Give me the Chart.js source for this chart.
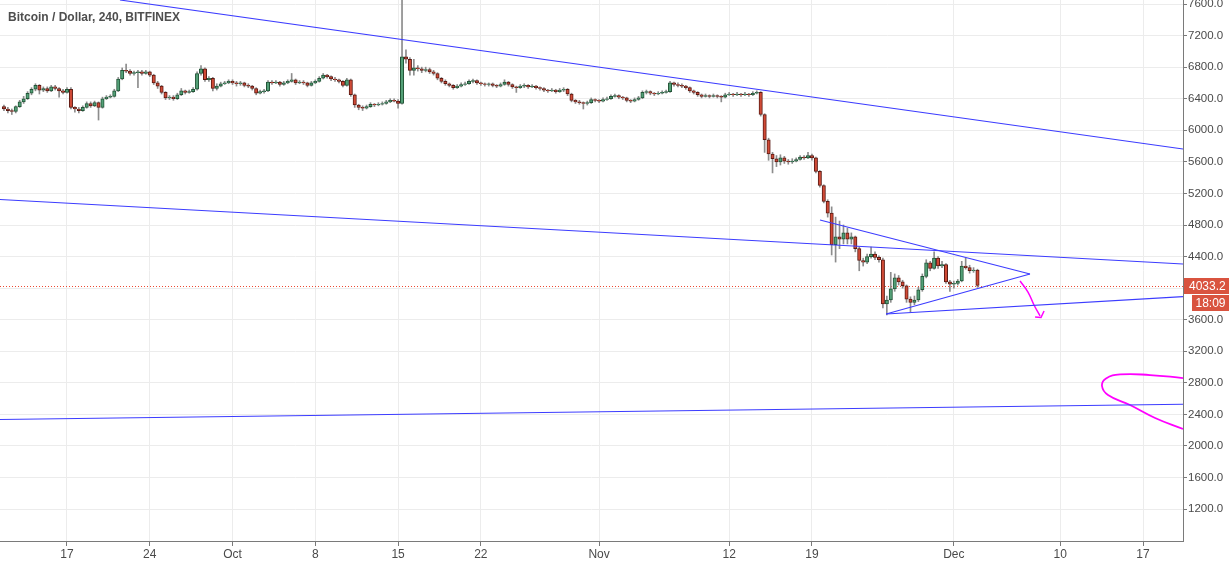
<!DOCTYPE html>
<html><head><meta charset="utf-8">
<script src="https://cdn.jsdelivr.net/npm/chart.js@4.4.1/dist/chart.umd.min.js"></script>
<style>html,body{margin:0;padding:0;background:#fff;overflow:hidden}#wrap{position:relative;width:1229px;height:565px}</style>
</head><body><div id="wrap"><canvas id="c" width="1229" height="565"></canvas></div>
<script>
// Time axis: days since 2018-09-01 00:00. Candles are 8-hour bars.
const startDay = 10 + 16/24;   // Sep 11 16:00
const stepDay = 8/24;
const title = 'Bitcoin / Dollar, 240, BITFINEX';

const opens = [
6300,6270,6250,6240,6300,6360,6400,6470,6520,6570, 6510,6530,6500,6550,6530,6500,6480,6520,6290,6270,
6250,6290,6340,6310,6350,6290,6400,6420,6430,6500, 6650,6760,6750,6720,6730,6740,6720,6740,6700,6600,
6560,6480,6410,6420,6400,6450,6500,6480,6490,6520, 6720,6780,6640,6660,6530,6560,6590,6600,6620,6600,
6590,6600,6570,6560,6530,6470,6490,6500,6610,6600, 6610,6580,6600,6620,6640,6600,6610,6600,6570,6600,
6620,6660,6700,6680,6650,6640,6620,6570,6640,6450, 6320,6290,6280,6300,6330,6320,6330,6340,6360,6380,
6370,6340,6930,6900,6760,6790,6780,6760,6770,6740, 6720,6660,6620,6590,6570,6540,6560,6580,6590,6620,
6630,6600,6590,6580,6590,6570,6560,6580,6610,6580, 6550,6540,6560,6570,6550,6560,6540,6530,6510,6500,
6510,6490,6510,6520,6460,6380,6360,6350,6340,6350, 6390,6380,6370,6390,6400,6430,6440,6420,6410,6380,
6370,6390,6410,6480,6490,6470,6460,6470,6480,6490, 6600,6580,6570,6560,6540,6500,6480,6450,6430,6440,
6430,6440,6430,6420,6450,6460,6450,6460,6450,6460, 6450,6470,6480,6200,5880,5700,5640,5600,5650,5610,
5600,5610,5630,5660,5650,5680,5650,5480,5300,5100, 4950,4550,4650,4620,4700,4620,4650,4500,4350,4330,
4400,4430,4390,4360,3800,3850,3990,4130,4080,4030, 3860,3820,3850,3980,4150,4320,4250,4380,4280,4300,
4080,4050,4060,4090,4280,4260,4220,4230];
const closes = [
6270,6250,6240,6300,6360,6400,6470,6520,6570,6510, 6530,6500,6550,6530,6500,6480,6520,6290,6270,6250,
6290,6340,6310,6350,6290,6400,6420,6430,6500,6650, 6760,6750,6720,6730,6740,6720,6740,6700,6600,6560,
6480,6410,6420,6400,6450,6500,6480,6490,6520,6720, 6780,6640,6660,6530,6560,6590,6600,6620,6600,6590,
6600,6570,6560,6530,6470,6490,6500,6610,6600,6610, 6580,6600,6620,6640,6600,6610,6600,6570,6600,6620,
6660,6700,6680,6650,6640,6620,6570,6640,6450,6320, 6290,6280,6300,6330,6320,6330,6340,6360,6380,6370,
6340,6930,6900,6760,6790,6780,6760,6770,6740,6720, 6660,6620,6590,6570,6540,6560,6580,6590,6620,6630,
6600,6590,6580,6590,6570,6560,6580,6610,6580,6550, 6540,6560,6570,6550,6560,6540,6530,6510,6500,6510,
6490,6510,6520,6460,6380,6360,6350,6340,6350,6390, 6380,6370,6390,6400,6430,6440,6420,6410,6380,6370,
6390,6410,6480,6490,6470,6460,6470,6480,6490,6600, 6580,6570,6560,6540,6500,6480,6450,6430,6440,6430,
6440,6430,6420,6450,6460,6450,6460,6450,6460,6450, 6470,6480,6200,5880,5700,5640,5600,5650,5610,5600,
5610,5630,5660,5650,5680,5650,5480,5300,5100,4950, 4550,4650,4620,4700,4620,4650,4500,4350,4330,4400,
4430,4390,4360,3800,3850,3990,4130,4080,4030,3860, 3820,3850,3980,4150,4320,4250,4380,4280,4300,4080,
4050,4060,4090,4280,4260,4220,4230,4033.2];
const highs = [
6320,6290,6270,6310,6380,6430,6490,6540,6590,6580, 6550,6550,6570,6570,6540,6520,6540,6540,6300,6290,
6310,6360,6360,6370,6360,6420,6440,6450,6520,6670, 6790,6840,6770,6750,6760,6760,6760,6750,6710,6620,
6570,6490,6440,6440,6470,6530,6510,6510,6540,6740, 6820,6790,6680,6670,6590,6610,6620,6640,6640,6620,
6620,6610,6590,6570,6540,6510,6520,6630,6630,6630, 6620,6620,6640,6720,6650,6630,6630,6610,6620,6640,
6680,6720,6710,6690,6670,6650,6630,6660,6650,6460, 6330,6310,6320,6350,6340,6350,6360,6380,6400,6400,
6390,7780,7020,6920,6900,6820,6800,6800,6790,6760, 6730,6670,6640,6600,6580,6580,6600,6610,6640,6650,
6640,6610,6600,6600,6600,6580,6600,6640,6620,6590, 6560,6580,6590,6580,6580,6570,6550,6540,6520,6530,
6520,6530,6540,6530,6470,6390,6380,6360,6370,6410, 6400,6390,6410,6420,6450,6460,6450,6430,6420,6390,
6410,6430,6500,6510,6500,6480,6490,6500,6510,6620, 6610,6600,6590,6570,6550,6510,6490,6460,6460,6450,
6460,6450,6440,6470,6480,6470,6480,6470,6480,6470, 6490,6500,6490,6210,5900,5720,5680,5690,5670,5630,
5640,5650,5680,5680,5720,5700,5660,5490,5310,5120, 5030,4900,4850,4800,4760,4700,4660,4520,4380,4430,
4520,4460,4410,4380,3900,4200,4180,4160,4100,4040, 3890,3900,4010,4180,4360,4340,4460,4400,4340,4310,
4100,4090,4110,4340,4380,4290,4260,4240];
const lows = [
6250,6220,6200,6220,6290,6340,6390,6450,6500,6460, 6490,6480,6490,6510,6420,6460,6470,6270,6230,6220,
6240,6280,6290,6300,6130,6280,6390,6410,6420,6490, 6640,6730,6700,6700,6540,6700,6710,6680,6580,6530,
6460,6390,6390,6380,6390,6440,6460,6470,6480,6510, 6700,6620,6620,6500,6510,6550,6580,6590,6580,6560,
6570,6550,6540,6510,6450,6460,6470,6490,6580,6590, 6560,6570,6590,6610,6580,6590,6580,6550,6560,6590,
6610,6650,6660,6630,6620,6600,6550,6560,6430,6290, 6260,6250,6270,6290,6300,6310,6320,6330,6350,6360,
6280,6330,6850,6700,6700,6750,6730,6740,6720,6700, 6640,6600,6570,6550,6520,6530,6550,6570,6580,6600,
6580,6570,6560,6560,6550,6540,6550,6570,6560,6530, 6480,6530,6540,6530,6540,6520,6510,6490,6480,6490,
6470,6480,6490,6440,6360,6340,6330,6270,6320,6340, 6360,6350,6360,6380,6390,6420,6400,6390,6360,6350,
6360,6380,6400,6460,6450,6440,6450,6460,6470,6480, 6560,6550,6540,6520,6480,6460,6430,6410,6420,6410,
6420,6410,6360,6410,6440,6430,6440,6430,6440,6430, 6440,6460,6180,5720,5620,5460,5540,5560,5580,5570,
5580,5600,5620,5630,5640,5620,5460,5280,5080,4900, 4420,4330,4500,4560,4560,4560,4460,4220,4280,4310,
4380,4360,4330,3750,3660,3820,3960,4040,4000,3820, 3700,3790,3830,3960,4130,4220,4240,4250,4260,4060,
3960,4000,4040,4080,4240,4190,4200,4010];

const xTickDays   = [16, 23, 30, 37, 44, 51, 61, 72, 79, 91, 100, 107];
const xTickLabels = ['17','24','Oct','8','15','22','Nov','12','19','Dec','10','17'];
const yTicks = [1200,1600,2000,2400,2800,3200,3600,4000,4400,4800,5200,5600,6000,6400,6800,7200,7600];
const lastPrice = 4033.2;
const countdown = '18:09';

// Drawn trend lines [day, price] pairs
const trendTop      = [[20.48, 7651], [110.38, 5763]];
const trendMid      = [[10.334, 5123], [110.38, 4306]];
const trendLow      = [[10.334, 2336], [110.38, 2528]];
const trendSupport  = [[85.27, 3672], [110.38, 3892]];
const triUpper      = [[79.68, 4863], [97.44, 4179]];
const triLower      = [[85.27, 3672], [97.44, 4179]];
// Hand-drawn magenta strokes
const arrowCurve = [[96.60, 4090], [97.27, 3951], [97.78, 3786], [98.29, 3647]];
const arrowHead  = [[97.87, 3634], [98.37, 3628], [98.63, 3710]];
const loopCurve  = [[110.38, 2861], [107.59, 2899], [105.06, 2906], [103.87, 2855], [103.53, 2760], [104.04, 2646], [105.90, 2519], [108.02, 2355], [110.38, 2215]];

const xMin = 10.334, xMax = 110.38, yMin = 796, yMax = 7651;

const xs = closes.map((_, i) => startDay + i * stepDay);
const wickData = xs.map((x, i) => ({x, y: [lows[i], highs[i]]}));
const bodyData = xs.map((x, i) => ({x, y: [opens[i], closes[i]]}));
const isUp = closes.map((c, i) => c >= opens[i]);
const bodyFill = isUp.map(u => u ? '#53a077' : '#d04a36');
const bodyBorder = isUp.map(u => u ? '#225437' : '#5b1a13');

const toPts = arr => arr.map(p => ({x: p[0], y: p[1]}));
const blue = '#3c3cff';
const lineDs = (pts, color, w, tension) => ({
  type: 'line', data: toPts(pts), borderColor: color, borderWidth: w,
  pointRadius: 0, fill: false, tension: tension || 0, order: 1
});

const priceLine = {
  id: 'priceLine',
  beforeDatasetsDraw(chart) {
    const ctx = chart.ctx, a = chart.chartArea;
    const yp = Math.round(chart.scales.y.getPixelForValue(lastPrice)) + 0.5;
    ctx.save();
    ctx.strokeStyle = '#ec4a32';
    ctx.lineWidth = 1;
    ctx.setLineDash([1, 2]);
    ctx.beginPath();
    ctx.moveTo(a.left, yp);
    ctx.lineTo(a.right, yp);
    ctx.stroke();
    ctx.restore();
  }
};

const overlay = {
  id: 'overlay',
  afterDraw(chart) {
    const ctx = chart.ctx;
    const ys = chart.scales.y;
    const yp = Math.round(ys.getPixelForValue(lastPrice));
    ctx.save();
    ctx.fillStyle = '#d9533f';
    ctx.fillRect(1184, yp - 8, 45, 16);
    ctx.fillRect(1192, yp + 9, 37, 16);
    ctx.fillStyle = '#ffffff';
    ctx.font = '12px "Liberation Sans", Arial, sans-serif';
    ctx.textBaseline = 'middle';
    ctx.textAlign = 'left';
    ctx.fillText(lastPrice.toFixed(1), 1189, yp + 0.5);
    ctx.textAlign = 'center';
    ctx.fillText(countdown, 1210.5, yp + 17.5);
    ctx.fillStyle = '#4e4e4e';
    ctx.textAlign = 'left';
    ctx.textBaseline = 'alphabetic';
    ctx.font = 'bold 12px "Liberation Sans", Arial, sans-serif';
    ctx.fillText(title, 8, 21);
    ctx.restore();
  }
};

new Chart(document.getElementById('c'), {
  type: 'bar',
  data: {
    datasets: [
      {type: 'bar', data: wickData, backgroundColor: '#8c8c8c', borderWidth: 0, barThickness: 1, grouped: false, order: 3},
      {type: 'bar', data: bodyData, backgroundColor: bodyFill, borderColor: bodyBorder, borderWidth: 1, borderSkipped: false, barThickness: 3.4, grouped: false, order: 2},
      lineDs(trendTop, blue, 1.1),
      lineDs(trendMid, blue, 1.1),
      lineDs(trendLow, blue, 1.1),
      lineDs(trendSupport, blue, 1.1),
      lineDs(triUpper, blue, 1.1),
      lineDs(triLower, blue, 1.1),
      lineDs(arrowCurve, '#ff00ff', 1.5, 0.4),
      lineDs(arrowHead, '#ff00ff', 1.5),
      lineDs(loopCurve, '#ff00ff', 1.8, 0.45)
    ]
  },
  options: {
    responsive: false, animation: false, devicePixelRatio: 1, events: [],
    layout: {padding: 0},
    plugins: {legend: {display: false}, tooltip: {enabled: false}, title: {display: false}},
    scales: {
      x: {
        type: 'linear', min: xMin, max: xMax, offset: false,
        grid: {offset: false, color: '#ececec', tickColor: '#7a7a7a', tickLength: 5, drawTicks: true},
        border: {color: '#7a7a7a', width: 1},
        ticks: {autoSkip: false, maxRotation: 0, padding: 1, color: '#4a4a4a',
          font: {family: '"Liberation Sans", Arial, sans-serif', size: 12},
          callback: v => { const k = xTickDays.indexOf(v); return k >= 0 ? xTickLabels[k] : ''; }},
        afterBuildTicks: s => { s.ticks = xTickDays.map(v => ({value: v})); },
        afterFit: s => { s.height = 24; s.paddingLeft = 0; s.paddingRight = 0; }
      },
      y: {
        type: 'linear', position: 'right', min: yMin, max: yMax, beginAtZero: false,
        grid: {color: '#ececec', tickColor: '#7a7a7a', tickLength: 4, drawTicks: true},
        border: {color: '#7a7a7a', width: 1},
        ticks: {autoSkip: false, padding: 1, color: '#4a4a4a',
          font: {family: '"Liberation Sans", Arial, sans-serif', size: 11.5},
          callback: v => v === 4000 ? '' : Number(v).toFixed(1)},
        afterBuildTicks: s => { s.ticks = yTicks.map(v => ({value: v})); },
        afterFit: s => { s.width = 46; s.paddingTop = 0; s.paddingBottom = 0; }
      }
    }
  },
  plugins: [priceLine, overlay]
});
</script>
</body></html>
